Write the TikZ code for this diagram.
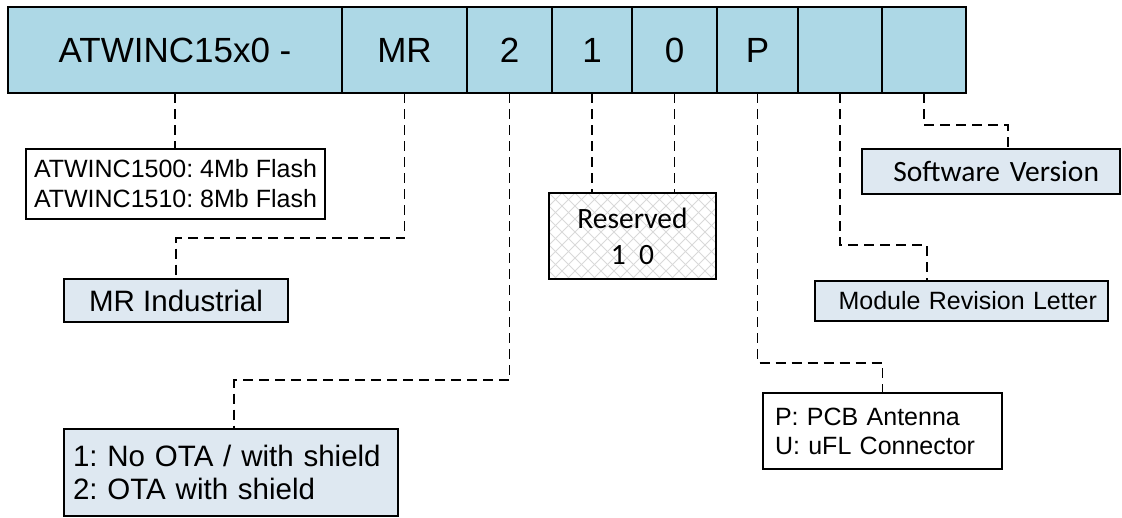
\documentclass[tikz,border=0pt]{standalone}
\usepackage{fontspec}
\setmainfont{Liberation Sans}
\newfontfamily\calib{Carlito}
\usetikzlibrary{calc}
\frenchspacing
\definecolor{barblue}{RGB}{173,216,230}
\definecolor{lblfill}{RGB}{222,232,241}
\tikzset{
  topbox/.style={draw=black, line width=1.8pt, fill=barblue, minimum height=86pt,
    inner sep=0pt, outer sep=0pt, anchor=north west, font=\fontsize{35}{42}\selectfont},
  conn/.style={draw=black, line width=1.5pt, dash pattern=on 10pt off 6pt},
  lbox/.style={draw=black, line width=1.5pt, anchor=north west, inner sep=0pt, outer sep=0pt},
  hatchc/.style={draw=gray!30, line width=1pt},
  hatchfill/.style={path picture={
    \foreach \k in {-8,...,22}{
      \draw[hatchc] ($(path picture bounding box.north west)+(\k*13,0)$) -- ++(100,100);
      \draw[hatchc] ($(path picture bounding box.north west)+(\k*13,0)$) -- ++(-100,100);
    }}},
}
\begin{document}
\begin{tikzpicture}[x=1pt,y=-1pt]
\useasboundingbox (0,0) rectangle (1122,517);
% top bar
\node[topbox, minimum width=334pt] (t1) at (8,7) {ATWINC15x0 -};
\node[topbox, minimum width=125pt] (t2) at (t1.north east) {MR};
\node[topbox, minimum width=85pt] (t3) at (t2.north east) {2};
\node[topbox, minimum width=80pt] (t4) at (t3.north east) {1};
\node[topbox, minimum width=85pt] (t5) at (t4.north east) {0};
\node[topbox, minimum width=81pt] (t6) at (t5.north east) {P};
\node[topbox, minimum width=84pt] (t7) at (t6.north east) {};
\node[topbox, minimum width=84pt] (t8) at (t7.north east) {};
% label boxes
\node[lbox, fill=white, minimum width=299pt, minimum height=70pt, align=left,
  font=\fontsize{25}{30}\selectfont] (flash) at (26,149)
  {ATWINC1500: 4Mb Flash\\ATWINC1510: 8Mb Flash};
\node[lbox, fill=lblfill, minimum width=224pt, minimum height=43pt,
  font=\fontsize{29.5}{35}\selectfont] (mrind) at (64,279) {MR Industrial};
\node[lbox, fill=lblfill, minimum height=87pt, inner xsep=9pt, text width=316pt, align=left,
  font=\fontsize{29.5}{33}\selectfont] (ota) at (64,429)
  {1: No OTA / with shield\\2: OTA with shield};
\node[lbox, fill=white, hatchfill, minimum width=167pt, minimum height=86pt, align=center,
  font=\calib\fontsize{29.5}{36}\selectfont] (res) at (549,193) {Reserved\\1\hspace{0.45em}0};
\node[lbox, fill=lblfill, minimum height=45pt, inner xsep=21pt, text width=216pt, align=right,
  font=\calib\fontsize{29.5}{35}\selectfont] (sw) at (862,149) {Software Version};
\node[lbox, fill=lblfill, minimum height=40pt, inner xsep=11pt, text width=271pt, align=right,
  font=\fontsize{25}{30}\selectfont] (mrl) at (815,281) {Module Revision Letter};
\node[lbox, fill=white, minimum height=76pt, inner xsep=12pt, text width=215pt, align=left,
  font=\fontsize{25}{29}\selectfont] (pbox) at (763,393)
  {P: PCB Antenna\\U: uFL Connector};
% connectors
\draw[conn] (t1.south) -- (t1.south |- flash.north);
\draw[conn] (t2.south) -- ++(0,145) -| (mrind.north);
\draw[conn] (t3.south) -- ++(0,287) -| ([xshift=3pt]ota.north);
\draw[conn] (t4.south) -- (t4.south |- res.north);
\draw[conn] (t5.south) -- (t5.south |- res.north);
\draw[conn] (t6.south) -- ++(0,270) -| (pbox.north);
\draw[conn] (t7.south) -- ++(0,152) -| ([xshift=-34.5pt]mrl.north);
\draw[conn] (t8.south) -- ++(0,32) -| ([xshift=17pt]sw.north);
\end{tikzpicture}
\end{document}
